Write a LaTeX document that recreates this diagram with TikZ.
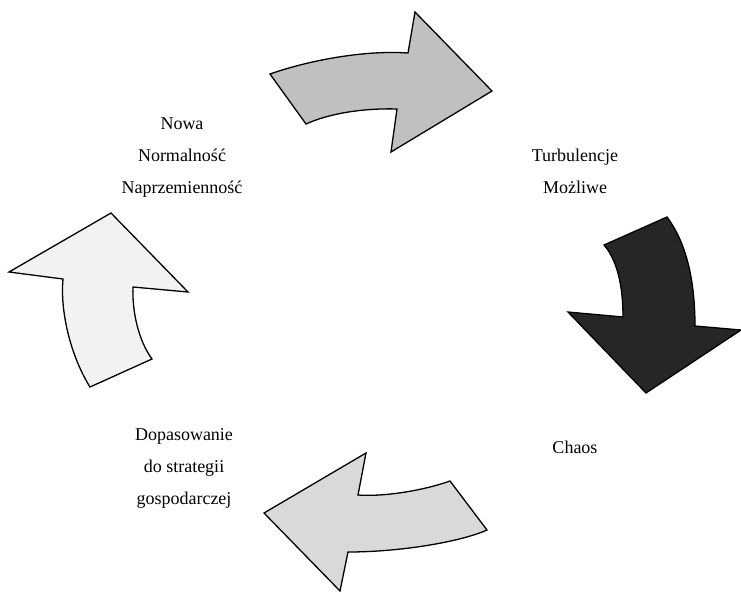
\documentclass[tikz,border=0pt]{standalone}
\usepackage{fontspec}
\setmainfont{Liberation Serif}
\usetikzlibrary{positioning}

\begin{document}
\begin{tikzpicture}[x=0.5pt, y=-0.5pt, line join=miter,
	cyclearrow/.style={draw=black, line width=0.65pt},
	phase/.style={align=center, font=\fontsize{9}{16}\selectfont, inner sep=0pt}]
			\useasboundingbox (0,0) rectangle (741,591);
			% arrows of the cycle
			\fill[cyclearrow, fill={rgb,255:red,192;green,192;blue,192}]
			(270,74) .. controls (310,60) and (365,50) .. (408,53)
			-- (415,12) -- (492,91) -- (391,152) -- (397,109)
			.. controls (365,108) and (330,113) .. (306,124) -- cycle;
			\fill[cyclearrow, fill={rgb,255:red,38;green,38;blue,38}]
			(667,217) -- (604,245) .. controls (617,260) and (623,285) .. (623,317)
			-- (568,312) -- (646,393) -- (741,330) -- (695,326)
			.. controls (695,285) and (688,245) .. (667,217) -- cycle;
			\fill[cyclearrow, fill={rgb,255:red,217;green,217;blue,217}]
			(450,481) -- (487,530) .. controls (460,542) and (400,552) .. (348,552)
			-- (340,591) -- (264,513) -- (366,453) -- (358,495)
			.. controls (385,497) and (425,490) .. (450,481) -- cycle;
			\fill[cyclearrow, fill={rgb,255:red,242;green,242;blue,242}]
			(111,213) -- (9,272) -- (63,279) .. controls (60,310) and (70,355) .. (90,387)
			-- (152,359) .. controls (138,340) and (132,310) .. (133,287)
			-- (188,292) -- cycle;
			% phases
			\node[phase] (nowa) at (182,158) {Nowa\\Normalność\\Naprzemienność};
			\node[phase] (turb) at (575,171) {Turbulencje\\Możliwe};
			\node[phase] (chaos) at (575,447) {Chaos};
			\node[phase] (dopas) at (184,468) {Dopasowanie\\do strategii\\gospodarczej};
		\end{tikzpicture}
\end{document}
